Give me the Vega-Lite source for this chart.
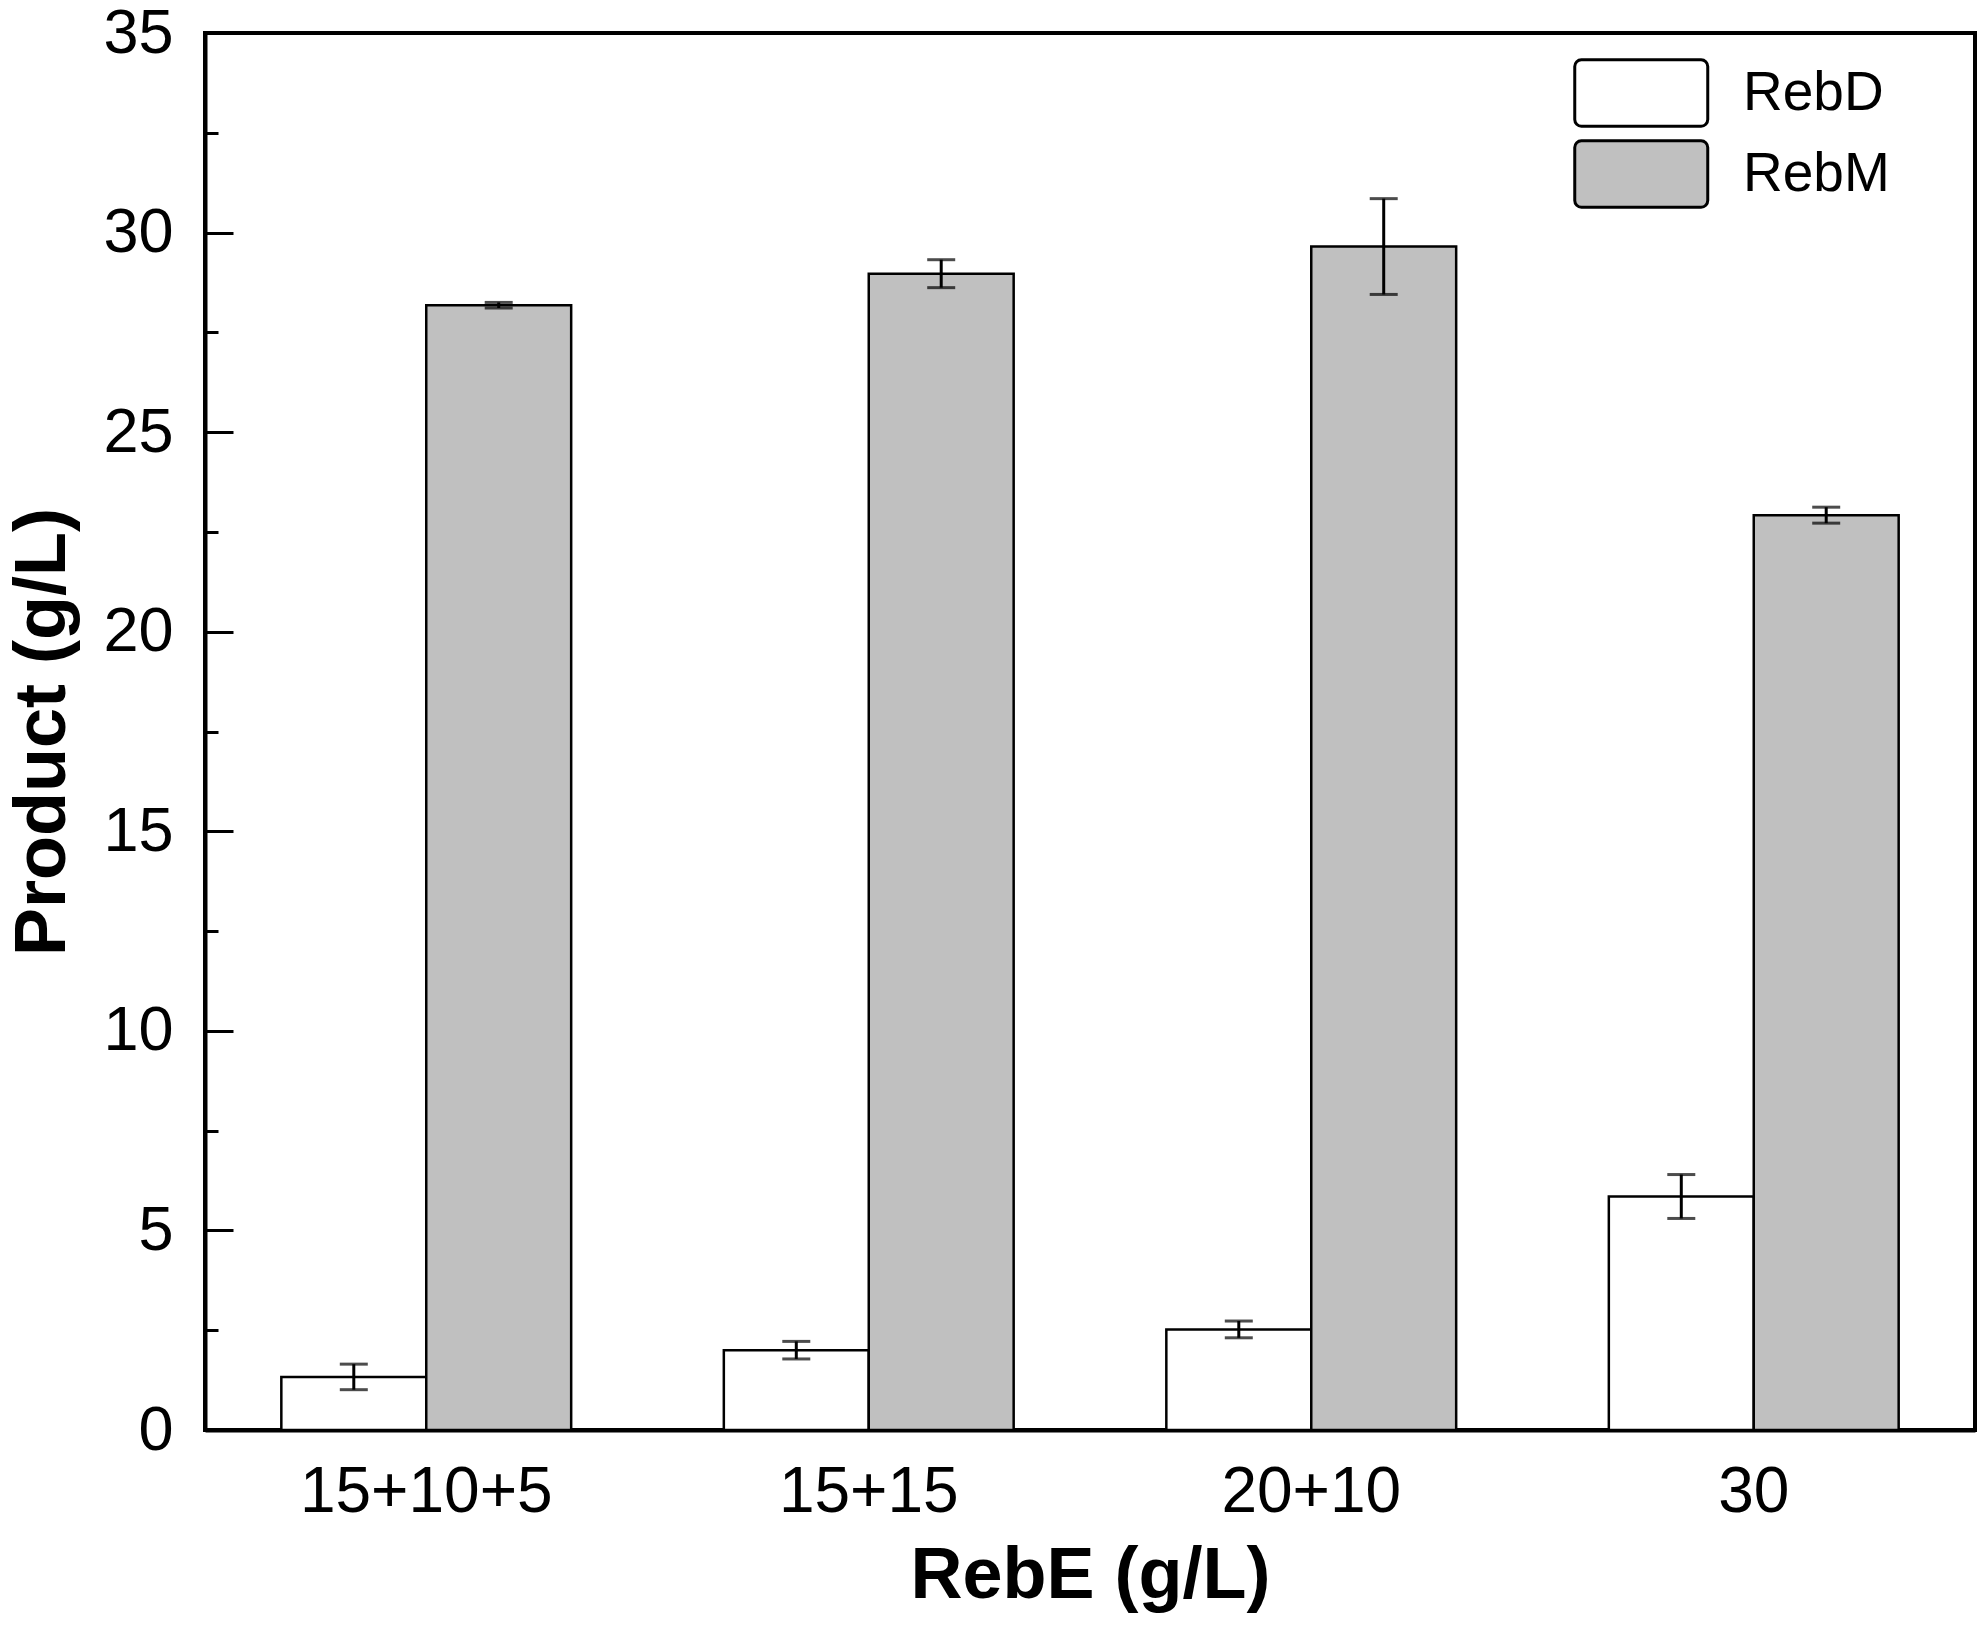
{
  "$schema": "https://vega.github.io/schema/vega-lite/v6.json",
  "width": 1770,
  "height": 1397,
  "autosize": {"type": "none"},
  "padding": {"left": 205, "top": 33, "right": 8, "bottom": 217},
  "background": "white",
  "config": {
    "view": {"stroke": "black", "strokeWidth": 4},
    "font": "Liberation Sans"
  },
  "data": {
    "values": [
      {"RebE": "15+10+5", "product": "RebD", "value": 1.33, "err": 0.32},
      {"RebE": "15+10+5", "product": "RebM", "value": 28.18, "err": 0.07},
      {"RebE": "15+15", "product": "RebD", "value": 2.0, "err": 0.22},
      {"RebE": "15+15", "product": "RebM", "value": 28.97, "err": 0.35},
      {"RebE": "20+10", "product": "RebD", "value": 2.52, "err": 0.21},
      {"RebE": "20+10", "product": "RebM", "value": 29.65, "err": 1.2},
      {"RebE": "30", "product": "RebD", "value": 5.85, "err": 0.55},
      {"RebE": "30", "product": "RebM", "value": 22.92, "err": 0.2}
    ]
  },
  "encoding": {
    "x": {
      "field": "RebE",
      "type": "nominal",
      "sort": ["15+10+5", "15+15", "20+10", "30"],
      "scale": {"paddingInner": 0.345, "paddingOuter": 0.1725},
      "axis": {
        "title": "RebE (g/L)",
        "labelAngle": 0,
        "labelLimit": 0,
        "ticks": false,
        "labelFontSize": 64,
        "labelColor": "black",
        "labelPadding": 30,
        "titleFontSize": 72,
        "titleFontWeight": "bold",
        "titleColor": "black",
        "titlePadding": 16,
        "domainColor": "black",
        "domainWidth": 4
      }
    },
    "xOffset": {
      "field": "product",
      "type": "nominal",
      "sort": ["RebD", "RebM"],
      "scale": {"paddingInner": 0, "paddingOuter": 0}
    }
  },
  "layer": [
    {
      "mark": {"type": "bar", "stroke": "black", "strokeWidth": 2.5},
      "encoding": {
        "y": {
          "field": "value",
          "type": "quantitative",
          "title": "Product (g/L)",
          "scale": {"domain": [0, 35], "nice": false},
          "axis": {
            "title": "Product (g/L)",
            "values": [0, 2.5, 5, 7.5, 10, 12.5, 15, 17.5, 20, 22.5, 25, 27.5, 30, 32.5, 35],
            "format": "d",
            "labelExpr": "datum.value % 5 === 0 ? datum.label : ''",
            "grid": false,
            "tickColor": "black",
            "tickWidth": 3,
            "tickSize": {"condition": {"test": "datum.value % 5 === 0", "value": -28}, "value": -13},
            "labelFontSize": 63,
            "labelColor": "black",
            "labelPadding": 60,
            "titleFontSize": 72,
            "titleFontWeight": "bold",
            "titleColor": "black",
            "titlePadding": 23,
            "domainColor": "black",
            "domainWidth": 4
          }
        },
        "fill": {
          "field": "product",
          "type": "nominal",
          "scale": {"domain": ["RebD", "RebM"], "range": ["white", "#c0c0c0"]},
          "legend": {
            "title": null,
            "orient": "none",
            "legendX": 1368,
            "legendY": 25,
            "padding": 0,
            "symbolType": "M-0.8,-1H2.8A0.2,0.2 0 0 1 3,-0.8V0.8A0.2,0.2 0 0 1 2.8,1H-0.8A0.2,0.2 0 0 1 -1,0.8V-0.8A0.2,0.2 0 0 1 -0.8,-1Z",
            "symbolSize": 4422,
            "symbolStrokeColor": "black",
            "symbolStrokeWidth": 3,
            "symbolOpacity": 1,
            "labelFontSize": 55,
            "labelColor": "black",
            "labelOffset": 100,
            "rowPadding": 1
          }
        }
      }
    },
    {
      "mark": {
        "type": "errorbar",
        "color": "black",
        "ticks": {"size": 28, "thickness": 3},
        "rule": {"strokeWidth": 3}
      },
      "encoding": {
        "y": {"field": "value", "type": "quantitative", "title": "Product (g/L)"},
        "yError": {"field": "err"}
      }
    }
  ]
}
